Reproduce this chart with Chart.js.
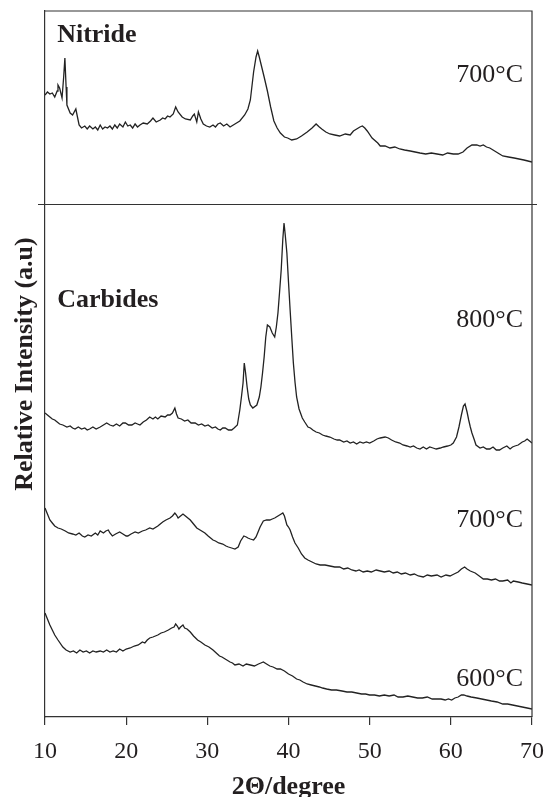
<!DOCTYPE html>
<html>
<head>
<meta charset="utf-8">
<script src="https://cdn.jsdelivr.net/npm/chart.js@4.4.0/dist/chart.umd.min.js"></script>
<style>
  body { margin: 0; background: #fff; }
  canvas { display: block; }
</style>
</head>
<body>
<canvas id="xrd" width="547" height="797"></canvas>
<script>
// 2θ ticks
const xTicks = [10, 20, 30, 40, 50, 60, 70];

// XRD patterns, [2θ, relative intensity incl. stacking offset]
const nitride700 = [
  [10.0,622],[10.3,625],[10.6,623],[10.9,624],[11.2,620],[11.5,626],[11.6,632],[11.8,629],[12.1,619],[12.3,640],
  [12.45,659],[12.6,630],[12.7,612],[13.1,604],[13.4,602],[13.8,608],[14.0,600],[14.2,592],[14.5,589],[14.9,591],
  [15.2,588],[15.5,591],[15.9,588],[16.2,590],[16.5,587],[16.8,592],[17.1,588],[17.4,590],[17.7,589],[18.0,591],
  [18.3,588],[18.6,592],[18.9,589],[19.2,593],[19.6,590],[19.9,595],[20.2,591],[20.5,592],[20.8,589],[21.1,593],
  [21.4,590],[21.7,592],[22.1,594],[22.6,593],[23.0,596],[23.3,599],[23.7,595],[24.2,597],[24.5,599],[24.8,598],
  [25.1,601],[25.4,600],[25.8,603],[26.1,610],[26.4,605],[26.9,600],[27.3,598],[27.9,597],[28.2,601],[28.4,603],
  [28.7,595],[28.9,605],[29.2,598],[29.5,593],[29.9,591],[30.3,590],[30.7,592],[31.0,590],[31.3,593],[31.6,594],
  [32.0,591],[32.4,593],[32.8,590],[33.2,592],[33.6,594],[34.0,596],[34.6,602],[35.0,608],[35.3,617],[35.7,645],
  [36.0,660],[36.2,666],[36.4,660],[36.7,650],[37.0,640],[37.4,626],[37.8,610],[38.2,596],[38.6,589],[39.0,584],
  [39.5,580],[39.9,579],[40.4,577],[41.0,578],[41.6,581],[42.3,585],[42.9,589],[43.4,593],[43.8,590],[44.1,588],
  [44.6,585],[45.1,583],[45.7,582],[46.3,581],[47.0,583],[47.6,582],[48.0,586],[48.4,588],[48.8,590],[49.1,591],
  [49.4,589],[49.7,586],[50.3,579],[51.0,574],[51.3,571],[51.9,571],[52.5,569],[53.1,570],[53.7,568],[54.3,567],
  [55.0,566],[55.6,565],[56.2,564],[56.9,563],[57.6,564],[58.3,563],[59.0,562],[59.6,564],[60.3,563],[60.9,563],
  [61.5,565],[62.0,569],[62.6,572],[63.2,572],[63.6,571],[64.0,572],[64.4,570],[64.8,569],[65.2,567],[65.6,565],
  [66.0,563],[66.4,561],[67.1,560],[67.8,559],[68.4,558],[69.0,557],[69.5,556],[70.0,555]
];

const carbide800 = [
  [10.0,304],[10.3,302],[10.6,300],[10.9,298],[11.2,297],[11.5,295],[11.8,293],[12.2,292],[12.7,290],[13.1,291],
  [13.4,289],[13.7,288],[14.1,290],[14.5,288],[14.9,289],[15.2,287],[15.5,288],[15.9,290],[16.3,288],[16.8,290],
  [17.2,292],[17.6,294],[18.0,292],[18.4,291],[18.8,293],[19.2,291],[19.6,294],[19.9,294],[20.3,292],[20.7,292],
  [21.1,294],[21.4,293],[21.7,292],[22.1,295],[22.5,297],[22.9,300],[23.3,298],[23.6,300],[23.9,298],[24.3,301],
  [24.8,300],[25.1,302],[25.4,302],[25.7,304],[26.0,309],[26.2,303],[26.4,299],[26.8,298],[27.2,296],[27.6,297],
  [28.0,294],[28.5,294],[28.9,292],[29.3,293],[29.7,291],[30.1,292],[30.6,289],[31.0,290],[31.3,288],[31.6,287],
  [31.9,289],[32.2,289],[32.6,287],[33.0,287],[33.3,289],[33.7,292],[34.0,307],[34.2,320],[34.4,334],[34.55,354],
  [34.7,345],[34.9,330],[35.1,318],[35.3,312],[35.6,309],[36.1,312],[36.4,320],[36.6,330],[36.8,344],[37.0,360],
  [37.2,380],[37.4,392],[37.7,390],[38.0,384],[38.3,380],[38.5,390],[38.7,404],[38.9,425],[39.1,447],[39.3,478],
  [39.45,494],[39.6,482],[39.8,464],[40.0,435],[40.2,407],[40.4,380],[40.6,354],[40.8,335],[41.0,320],[41.3,308],
  [41.7,299],[42.0,295],[42.4,290],[42.7,289],[43.0,287],[43.4,285],[43.8,284],[44.2,282],[44.6,281],[45.1,280],
  [45.6,278],[46.0,277],[46.3,277],[46.8,275],[47.2,276],[47.6,274],[48.0,275],[48.4,273],[48.8,275],[49.2,274],
  [49.6,275],[50.0,274],[50.5,276],[50.9,278],[51.3,279],[51.9,280],[52.3,279],[52.7,277],[53.2,275],[53.7,274],
  [54.1,272],[54.6,271],[55.0,270],[55.4,271],[55.8,269],[56.2,268],[56.6,270],[57.0,268],[57.4,270],[57.8,269],
  [58.2,268],[58.7,269],[59.1,270],[59.6,271],[60.0,272],[60.3,274],[60.7,280],[61.0,290],[61.3,302],[61.55,311],
  [61.75,313],[62.0,305],[62.2,297],[62.4,290],[62.6,284],[62.9,277],[63.1,272],[63.6,269],[64.0,270],[64.4,268],
  [64.8,268],[65.2,270],[65.6,267],[66.0,267],[66.4,269],[66.9,271],[67.3,268],[67.6,270],[67.9,271],[68.3,272],
  [68.8,275],[69.1,276],[69.4,278],[69.7,276],[70.0,274]
];

const carbide700 = [
  [10.0,209],[10.3,203],[10.6,197],[10.9,194],[11.2,191],[11.6,189],[12.0,188],[12.5,186],[12.9,184],[13.4,183],
  [13.8,182],[14.2,184],[14.6,181],[14.9,180],[15.3,182],[15.7,181],[16.2,184],[16.5,182],[16.8,186],[17.2,184],
  [17.5,186],[17.8,187],[18.0,184],[18.3,181],[18.7,183],[19.2,185],[19.6,183],[20.0,181],[20.2,181],[20.6,183],
  [21.1,185],[21.5,184],[22.0,186],[22.4,187],[22.9,189],[23.3,188],[23.9,191],[24.2,193],[24.5,195],[24.9,197],
  [25.4,199],[25.7,201],[26.0,204],[26.2,202],[26.4,199],[26.7,201],[27.0,203],[27.3,201],[27.6,199],[27.9,197],
  [28.3,193],[28.7,189],[29.1,187],[29.7,184],[30.1,181],[30.4,179],[30.7,177],[31.0,176],[31.4,174],[31.9,173],
  [32.3,171],[32.6,170],[33.0,169],[33.4,168],[33.8,170],[34.1,176],[34.5,181],[34.8,180],[35.0,179],[35.3,178],
  [35.7,177],[36.0,180],[36.2,184],[36.5,190],[36.9,196],[37.3,197],[37.7,197],[38.0,198],[38.3,199],[38.7,201],
  [39.1,203],[39.3,204],[39.5,201],[39.8,192],[40.0,190],[40.2,187],[40.5,180],[40.8,174],[41.2,169],[41.6,163],
  [42.0,159],[42.4,157],[42.9,155],[43.4,153],[43.9,152],[44.5,152],[45.1,151],[45.7,150],[46.3,150],[46.8,148],
  [47.3,149],[47.8,147],[48.3,146],[48.7,147],[49.2,145],[49.7,146],[50.2,145],[50.8,147],[51.3,146],[51.8,145],
  [52.4,146],[52.9,144],[53.4,145],[53.9,143],[54.4,144],[55.0,142],[55.5,143],[56.0,141],[56.6,140],[57.1,142],
  [57.6,141],[58.3,142],[58.8,140],[59.4,142],[59.9,141],[60.4,143],[60.9,145],[61.3,148],[61.7,150],[62.0,148],
  [62.4,146],[63.0,144],[63.5,141],[64.0,138],[64.5,138],[65.0,137],[65.5,138],[66.0,136],[66.4,136],[67.0,137],
  [67.4,134],[67.7,136],[68.3,135],[68.8,134],[69.4,133],[70.0,132]
];

const carbide600 = [
  [10.0,104],[10.3,98],[10.6,92],[10.9,87],[11.2,82],[11.6,77],[12.2,70],[12.6,67],[13.1,65],[13.5,66],
  [13.9,64],[14.3,67],[14.7,65],[15.1,66],[15.5,64],[15.9,66],[16.3,65],[16.8,66],[17.2,65],[17.6,67],
  [18.0,65],[18.4,66],[18.8,65],[19.2,68],[19.6,66],[20.0,68],[20.5,69],[21.0,71],[21.5,72],[22.0,75],
  [22.3,74],[22.6,77],[22.9,79],[23.3,80],[23.6,81],[23.9,82],[24.3,84],[24.7,85],[25.2,87],[25.6,89],
  [25.9,90],[26.1,93],[26.3,91],[26.5,88],[26.7,90],[27.0,92],[27.2,89],[27.5,88],[27.9,85],[28.3,81],
  [28.8,77],[29.2,75],[29.7,72],[30.2,70],[30.7,67],[31.1,64],[31.5,61],[31.8,60],[32.2,58],[32.8,55],
  [33.1,54],[33.4,52],[33.9,53],[34.4,51],[34.8,53],[35.3,52],[35.8,51],[36.3,53],[36.6,54],[36.9,55],
  [37.3,53],[37.7,51],[38.1,50],[38.6,48],[39.0,48],[39.5,46],[40.0,43],[40.5,41],[41.0,38],[41.4,37],
  [41.8,35],[42.3,33],[42.8,32],[43.3,31],[43.8,30],[44.2,29],[44.7,28],[45.3,27],[45.9,27],[46.6,26],
  [47.2,25],[47.8,25],[48.4,24],[49.0,23],[49.5,23],[50.0,22],[50.6,22],[51.2,21],[51.8,22],[52.4,21],
  [53.0,22],[53.5,20],[54.1,20],[54.7,21],[55.3,20],[55.9,19],[56.5,19],[57.1,20],[57.7,18],[58.3,18],
  [58.8,18],[59.3,17],[59.7,18],[60.1,17],[60.5,19],[60.9,20],[61.3,22],[61.6,22],[62.0,21],[62.5,20],
  [63.2,19],[63.8,18],[64.4,17],[65.0,16],[65.7,15],[66.4,13],[67.0,13],[67.6,12],[68.2,11],[68.8,10],
  [69.4,9],[70.0,8]
];

// panel divider (intensity level) and text labels
const panelSplit = 513;
const labelTexts = ["Nitride", "Carbides", "700°C", "800°C", "700°C", "600°C"];
const labelX = [11.5, 11.5, 68.9, 68.9, 68.9, 68.9];
const labelY = [682, 417, 642, 397, 197, 38];
const labelBold = [true, true, false, false, false, false];

const serif = "'Liberation Serif', 'Times New Roman', serif";
const ink = "#231f20";

function toPts(arr) {
  return arr.map(p => ({ x: p[0], y: p[1] }));
}

const framePlugin = {
  id: "frame",
  afterDatasetsDraw(chart) {
    const { ctx, chartArea: a, scales } = chart;
    const ySplit = Math.round(scales.y.getPixelForValue(panelSplit)) + 0.5;
    ctx.save();
    ctx.strokeStyle = "#333";
    ctx.lineWidth = 1.2;
    ctx.beginPath();
    ctx.moveTo(a.left, a.top);
    ctx.lineTo(a.right, a.top);
    ctx.lineTo(a.right, a.bottom);
    ctx.moveTo(a.left - 7, ySplit);
    ctx.lineTo(a.right + 5, ySplit);
    ctx.stroke();

    ctx.fillStyle = ink;
    ctx.textBaseline = "middle";
    labelTexts.forEach((t, i) => {
      ctx.font = (labelBold[i] ? "bold " : "") + "26px " + serif;
      ctx.textAlign = labelBold[i] ? "left" : "right";
      ctx.fillText(t, scales.x.getPixelForValue(labelX[i]), scales.y.getPixelForValue(labelY[i]));
    });
    ctx.restore();
  }
};

const lineStyle = { borderColor: "#222", borderWidth: 1.3, pointRadius: 0, tension: 0, fill: false };

new Chart(document.getElementById("xrd"), {
  type: "line",
  data: {
    datasets: [
      { label: "Nitride 700°C", data: toPts(nitride700), ...lineStyle },
      { label: "Carbide 800°C", data: toPts(carbide800), ...lineStyle },
      { label: "Carbide 700°C", data: toPts(carbide700), ...lineStyle },
      { label: "Carbide 600°C", data: toPts(carbide600), ...lineStyle }
    ]
  },
  options: {
    responsive: false,
    animation: false,
    layout: { padding: { top: 11, right: 15, left: 0, bottom: 0 } },
    plugins: { legend: { display: false }, tooltip: { enabled: false } },
    scales: {
      x: {
        type: "linear",
        min: 10,
        max: 70,
        afterBuildTicks: s => { s.ticks = xTicks.map(v => ({ value: v })); },
        afterFit: s => { s.height = 80; s.paddingLeft = 0; s.paddingRight = 0; },
        ticks: { font: { family: serif, size: 24 }, color: ink, padding: 12, maxRotation: 0 },
        grid: { drawOnChartArea: false, drawTicks: true, tickLength: 8, color: "#333", lineWidth: 1.2 },
        border: { color: "#333", width: 1.2 },
        title: {
          display: true,
          text: "2Θ/degree",
          font: { family: serif, size: 26, weight: "bold" },
          color: ink,
          padding: { top: 0, bottom: -6 }
        }
      },
      y: {
        min: 0,
        max: 706,
        afterFit: s => { s.width = 45; },
        ticks: { display: false },
        grid: { display: false },
        border: { color: "#333", width: 1.2 },
        title: {
          display: true,
          text: "Relative Intensity (a.u)",
          font: { family: serif, size: 26, weight: "bold" },
          color: ink,
          padding: { top: 10, bottom: 0 }
        }
      }
    }
  },
  plugins: [framePlugin]
});
</script>
</body>
</html>
